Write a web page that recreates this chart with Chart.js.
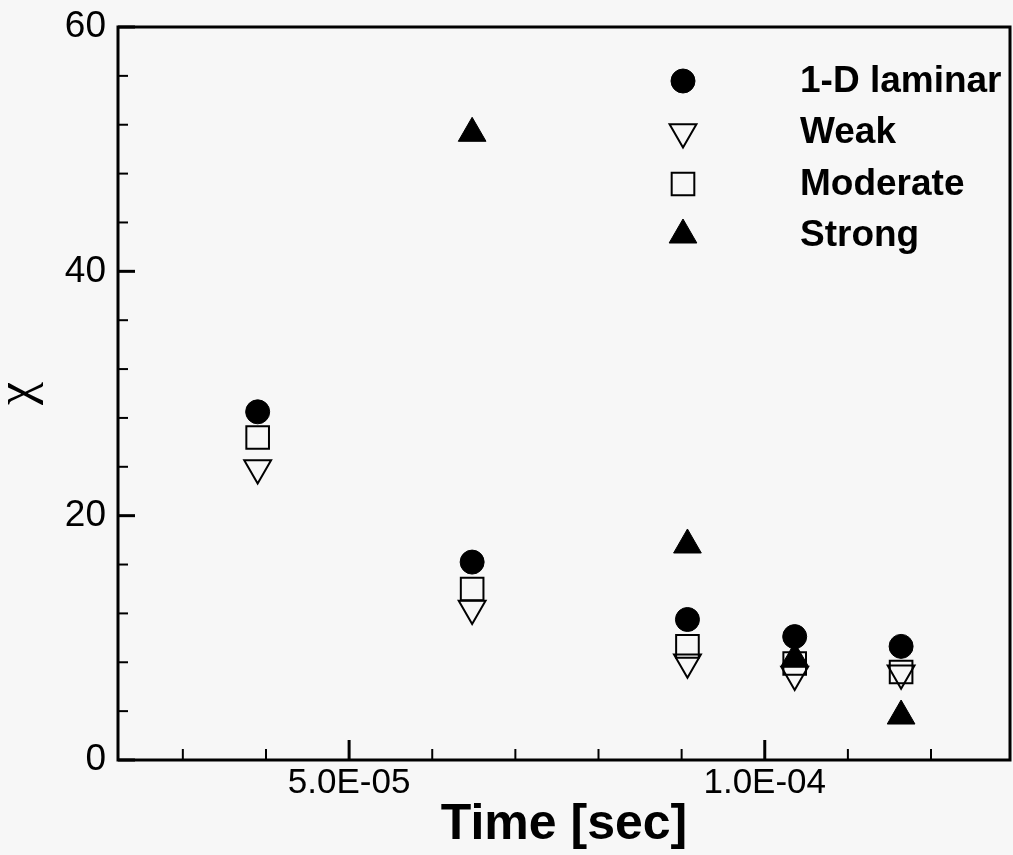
<!DOCTYPE html>
<html><head><meta charset="utf-8">
<script src="https://cdn.jsdelivr.net/npm/chart.js@4/dist/chart.umd.min.js"></script>
<style>html,body{margin:0;padding:0;background:#f7f7f7;}#wrap{width:1013px;height:855px;}</style>
</head><body><div id="wrap"><canvas id="c" width="1013" height="855"></canvas></div>
<script>
// ---- data ----
const times = [3.9e-5, 6.48e-5, 9.07e-5, 1.036e-4, 1.164e-4];
const laminar = [28.5, 16.2, 11.5, 10.1, 9.3];
const weak = [23.9, 12.4, 8.0, 7.0, 7.1];
const moderate = [26.4, 14.0, 9.3, 7.9, 7.2];
const strong = [null, 51.3, 17.6, 8.3, 3.6];
const seriesNames = ['1-D laminar', 'Weak', 'Moderate', 'Strong'];
const xMajorTicks = [5e-5, 1e-4];
const xTickLabels = ['5.0E-05', '1.0E-04'];
const xMinorTicks = [3e-5, 4e-5, 6e-5, 7e-5, 8e-5, 9e-5, 1.1e-4, 1.2e-4];
const yMajorTicks = [0, 20, 40, 60];
const yTickLabels = ['0', '20', '40', '60'];
const yMinorTicks = [4, 8, 12, 16, 24, 28, 32, 36, 44, 48, 52, 56];

function pts(arr) {
  return times.map((t, i) => ({x: t, y: arr[i]})).filter(p => p.y !== null);
}

const styles = [
  {pointStyle: 'circle', pointRadius: 12, rotation: 0, fill: '#000', borderWidth: 1},
  {pointStyle: 'triangle', pointRadius: 15.5, rotation: 180, fill: 'rgba(0,0,0,0)', borderWidth: 2},
  {pointStyle: 'rect', pointRadius: 16, rotation: 0, fill: 'rgba(0,0,0,0)', borderWidth: 2},
  {pointStyle: 'triangle', pointRadius: 16, rotation: 0, fill: '#000', borderWidth: 1}
];
const allSeries = [laminar, weak, moderate, strong];

const datasets = allSeries.map((s, i) => ({
  label: seriesNames[i],
  data: pts(s),
  pointStyle: styles[i].pointStyle,
  pointRadius: styles[i].pointRadius,
  pointHoverRadius: styles[i].pointRadius,
  rotation: styles[i].rotation,
  backgroundColor: styles[i].fill,
  borderColor: '#000',
  borderWidth: styles[i].borderWidth,
  showLine: false
}));

const TICK_FONT = "'Liberation Sans', Arial, Helvetica, sans-serif";

const decor = {
  id: 'decor',
  beforeDraw(chart) {
    const ctx = chart.ctx;
    ctx.save();
    ctx.fillStyle = '#f7f7f7';
    ctx.fillRect(0, 0, chart.width, chart.height);
    ctx.restore();
  },
  afterDraw(chart) {
    const {ctx, chartArea: a, scales: {x, y}} = chart;
    ctx.save();
    ctx.strokeStyle = '#000';
    ctx.lineCap = 'butt';
    // x ticks (inward)
    ctx.lineWidth = 3;
    xMajorTicks.forEach(v => { const p = x.getPixelForValue(v); ctx.beginPath(); ctx.moveTo(p, a.bottom); ctx.lineTo(p, a.bottom - 20); ctx.stroke(); });
    ctx.lineWidth = 2;
    xMinorTicks.forEach(v => { const p = x.getPixelForValue(v); ctx.beginPath(); ctx.moveTo(p, a.bottom); ctx.lineTo(p, a.bottom - 11); ctx.stroke(); });
    // y ticks (inward)
    ctx.lineWidth = 3;
    yMajorTicks.forEach(v => { const p = y.getPixelForValue(v); ctx.beginPath(); ctx.moveTo(a.left, p); ctx.lineTo(a.left + 17, p); ctx.stroke(); });
    ctx.lineWidth = 2;
    yMinorTicks.forEach(v => { const p = y.getPixelForValue(v); ctx.beginPath(); ctx.moveTo(a.left, p); ctx.lineTo(a.left + 10, p); ctx.stroke(); });
    // frame
    ctx.lineWidth = 3;
    ctx.strokeRect(a.left, a.top, a.right - a.left, a.bottom - a.top);
    // legend inside plot
    const rowsY = [81, 132, 184, 235];
    const markerX = 683, textX = 800;
    chart.data.datasets.forEach((ds, i) => {
      const st = styles[i];
      ctx.fillStyle = st.fill;
      ctx.strokeStyle = '#000';
      ctx.lineWidth = st.borderWidth;
      Chart.helpers.drawPoint(ctx, {pointStyle: st.pointStyle, radius: st.pointRadius, rotation: st.rotation, borderWidth: st.borderWidth}, markerX, rowsY[i]);
      ctx.fillStyle = '#000';
      ctx.font = "bold 37px " + TICK_FONT;
      ctx.textBaseline = 'middle';
      ctx.textAlign = 'left';
      ctx.fillText(ds.label, textX, rowsY[i] + 1);
    });
    ctx.restore();
  }
};

new Chart(document.getElementById('c'), {
  type: 'scatter',
  data: {datasets},
  options: {
    responsive: false,
    animation: false,
    events: [],
    layout: {autoPadding: false, padding: {top: 27, right: 3, left: 0, bottom: 0}},
    plugins: {legend: {display: false}, tooltip: {enabled: false}},
    scales: {
      x: {
        type: 'linear', position: 'bottom', min: 2.22e-5, max: 1.295e-4,
        grid: {display: false, drawTicks: false},
        border: {display: false},
        afterBuildTicks: s => { s.ticks = xMajorTicks.map(v => ({value: v})); },
        afterFit: s => { s.height = 95; s.paddingLeft = 0; s.paddingRight = 0; },
        ticks: {
          autoSkip: false, maxRotation: 0, minRotation: 0, padding: 6, color: '#000',
          font: {family: TICK_FONT, size: 35, lineHeight: 1},
          callback: (v, i) => xTickLabels[i]
        },
        title: {
          display: true, text: 'Time [sec]', color: '#000',
          font: {family: "'Liberation Sans Narrow', 'Liberation Sans', Arial, sans-serif", size: 50, weight: 'bold', lineHeight: 1},
          padding: {top: 0, bottom: 5}
        }
      },
      y: {
        type: 'linear', min: 0, max: 60,
        grid: {display: false, drawTicks: false},
        border: {display: false},
        afterBuildTicks: s => { s.ticks = yMajorTicks.map(v => ({value: v})); },
        afterFit: s => { s.width = 118; s.paddingTop = 0; s.paddingBottom = 0; },
        ticks: {
          padding: 12, color: '#000',
          font: {family: TICK_FONT, size: 37, lineHeight: 0.8},
          callback: (v, i) => yTickLabels[i]
        },
        title: {
          display: true, text: 'χ', color: '#000',
          font: {family: "'Liberation Serif', 'DejaVu Serif', serif", size: 52, lineHeight: 0.6},
          padding: {top: 3, bottom: 0}
        }
      }
    }
  },
  plugins: [decor]
});
</script>
</body></html>
